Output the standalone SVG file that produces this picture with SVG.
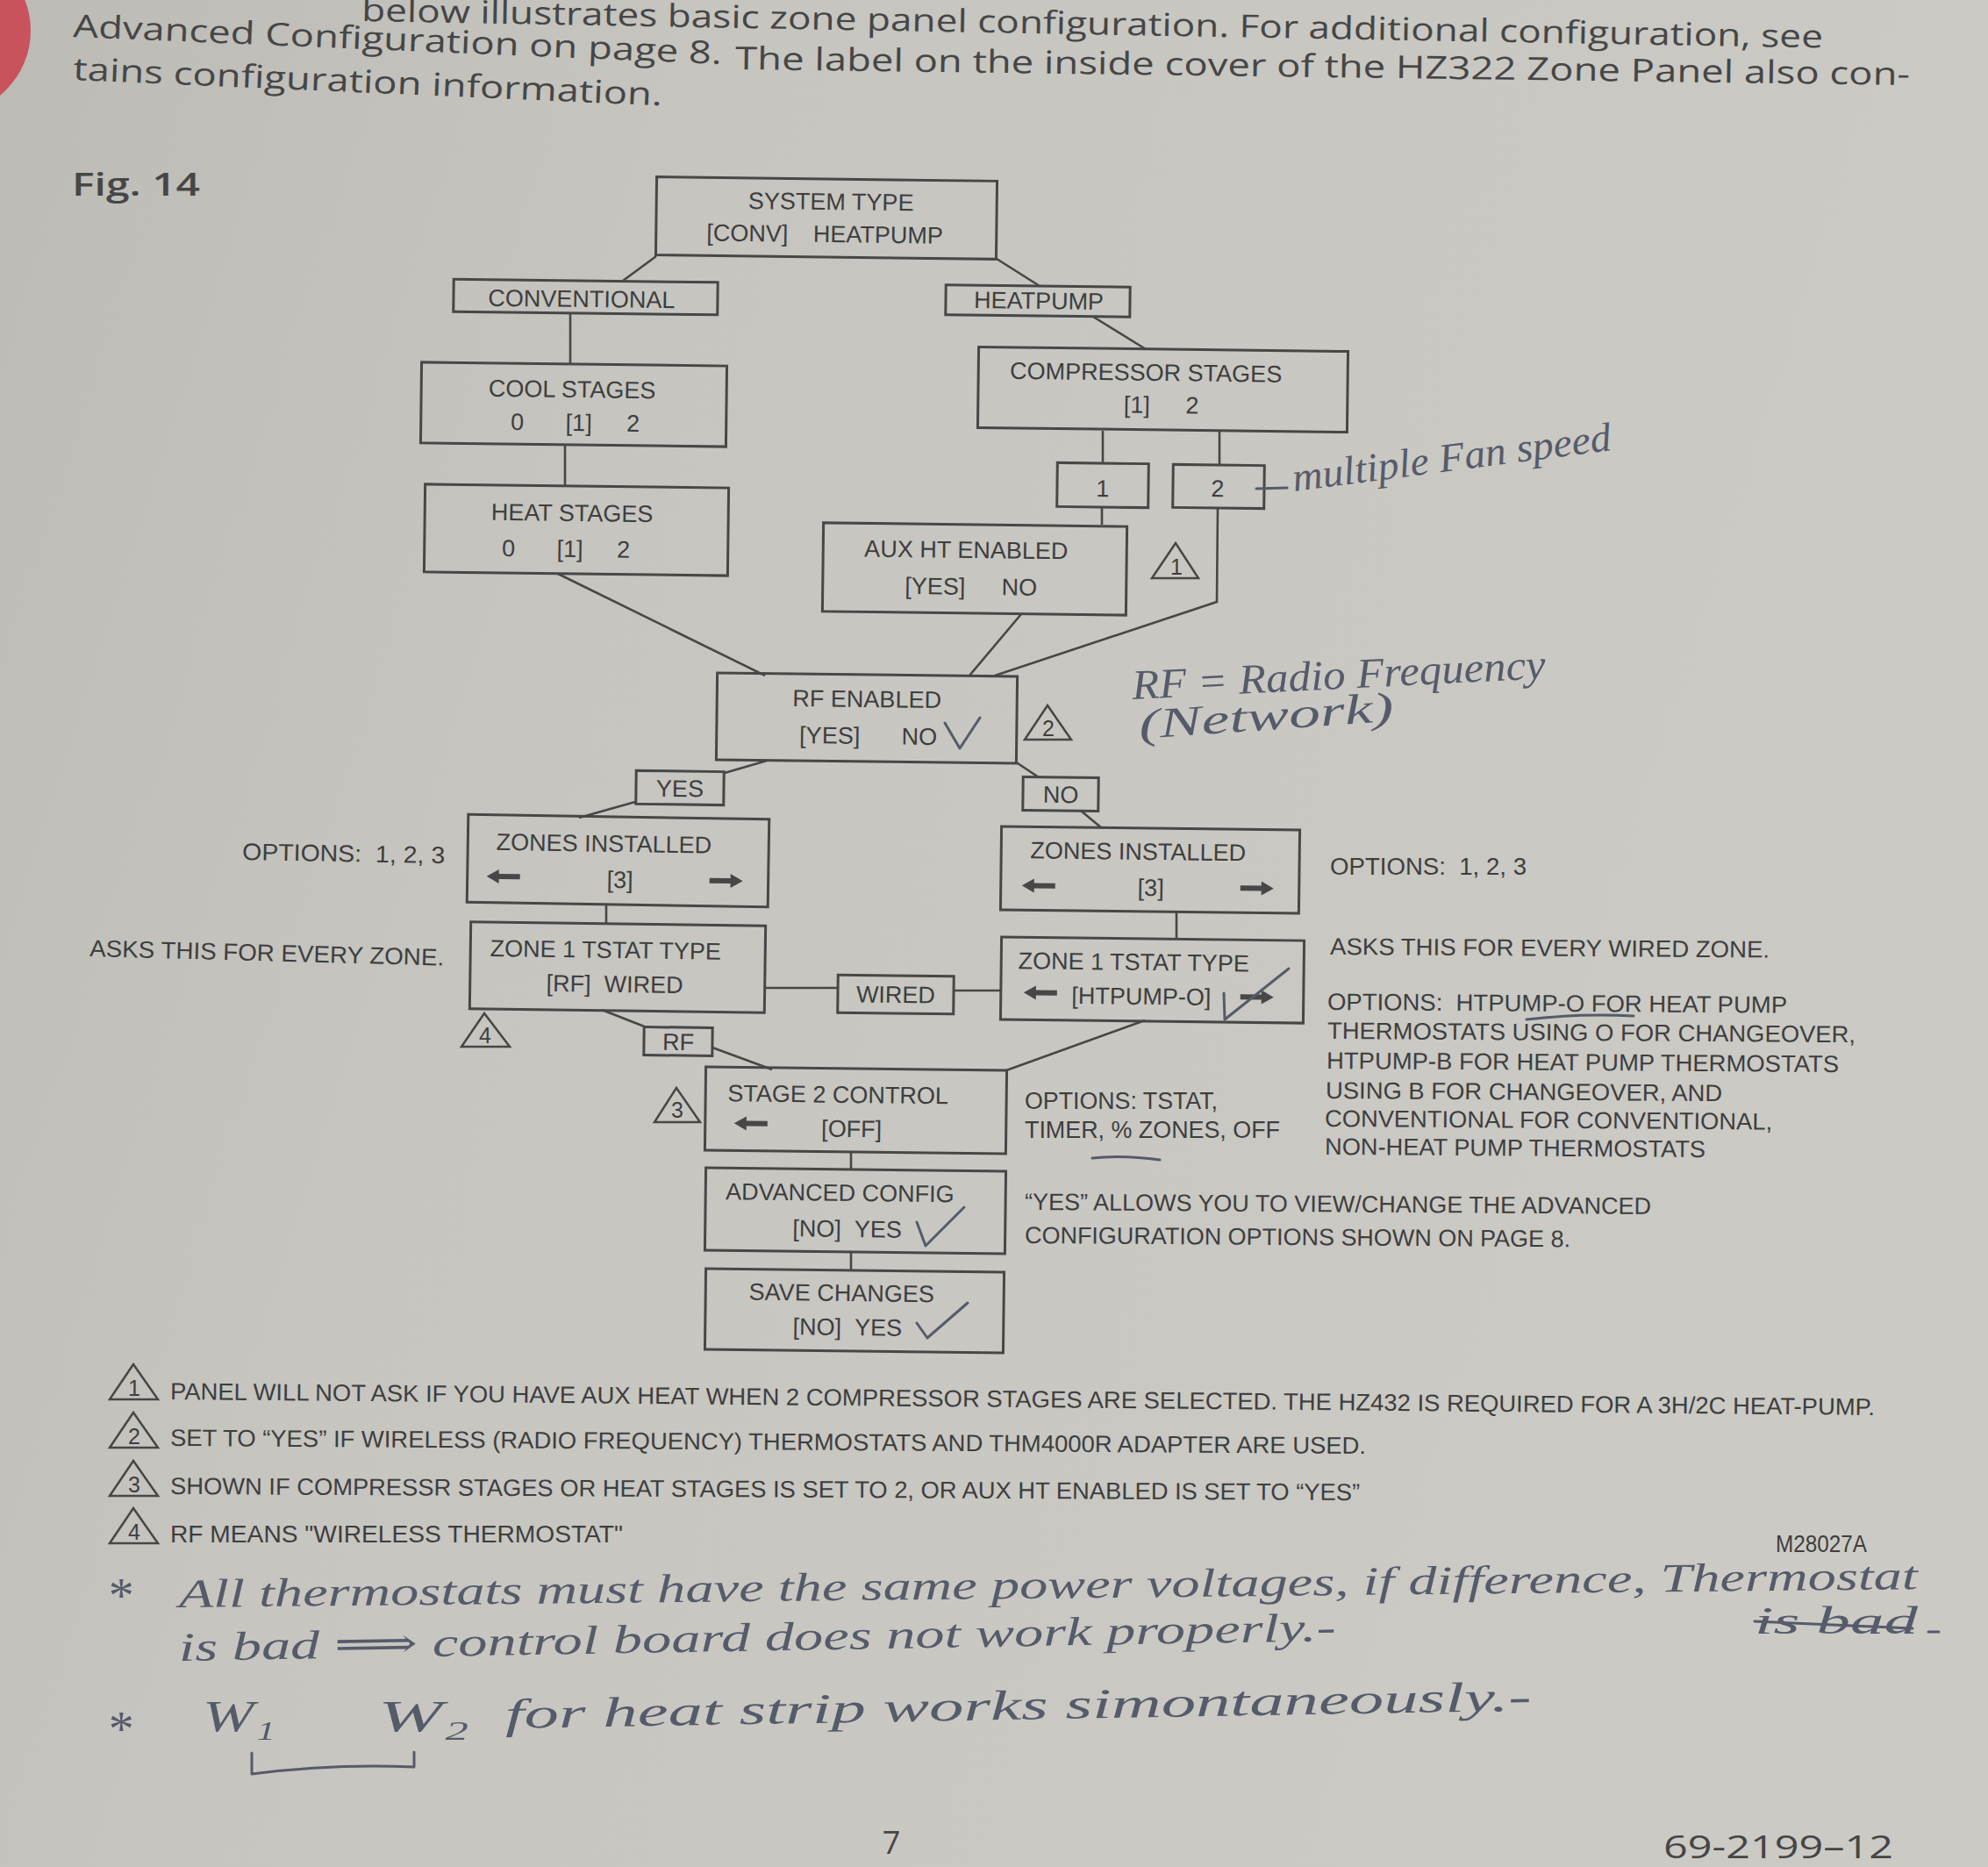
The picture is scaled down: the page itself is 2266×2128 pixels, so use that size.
<svg xmlns="http://www.w3.org/2000/svg" width="2266" height="2128" viewBox="0 0 2266 2128">
<defs>
<linearGradient id="bg" x1="0" y1="0" x2="1" y2="0.3">
<stop offset="0" stop-color="#bcbbb6"/>
<stop offset="0.35" stop-color="#c6c5c0"/>
<stop offset="1" stop-color="#cbcac5"/>
</linearGradient>
<path id="arrL" d="M-19,0 L-5,-8 L-5,-3 L19,-3 L19,3 L-5,3 L-5,8 Z"/>
<path id="arrR" d="M19,0 L5,-8 L5,-3 L-19,-3 L-19,3 L5,3 L5,8 Z"/>
</defs>
<style>
.box{fill:none;stroke:#474747;stroke-width:3}
.tri{fill:none;stroke:#474747;stroke-width:2.5;stroke-linejoin:miter}
.conn{fill:none;stroke:#474747;stroke-width:2.6}
.t{font-family:"Liberation Sans",Arial,sans-serif;font-size:27px;fill:#3e3e3e}
.m{text-anchor:middle}
.tn{font-family:"Liberation Sans",Arial,sans-serif;font-size:25px;fill:#3e3e3e;text-anchor:middle}
.hdr{font-family:"Open Sans","Noto Sans",sans-serif;font-size:36px;fill:#464646}
.arr{fill:#474747}
.hand{font-family:"Liberation Serif","DejaVu Serif",serif;font-style:italic;fill:#565b6a}
.pen{fill:none;stroke:#565b6a;stroke-width:3;stroke-linecap:round;stroke-linejoin:round}
</style>
<rect x="0" y="0" width="2266" height="2128" fill="url(#bg)"/>
<circle cx="-60" cy="35" r="95" fill="#c9535c"/>

<!-- header text -->
<g id="header">
<text class="hdr" x="412" y="24" textLength="1666" lengthAdjust="spacingAndGlyphs" transform="rotate(1.05 412 24)">below illustrates basic zone panel configuration. For additional configuration, see</text>
<text class="hdr" x="83" y="42" textLength="740" lengthAdjust="spacingAndGlyphs" transform="rotate(2.4 83 42)">Advanced Configuration on page 8.</text>
<text class="hdr" x="838" y="79" textLength="1339" lengthAdjust="spacingAndGlyphs" transform="rotate(0.77 838 79)">The label on the inside cover of the HZ322 Zone Panel also con-</text>
<text class="hdr" x="83" y="91" textLength="672" lengthAdjust="spacingAndGlyphs" transform="rotate(2.5 83 91)">tains configuration information.</text>
<text class="hdr" x="82" y="223" font-size="36" font-weight="600" textLength="146" lengthAdjust="spacingAndGlyphs">Fig. 14</text>
</g>

<!-- connectors -->
<g id="connectors">
<path class="conn" d="M748,292 L710,320"/>
<path class="conn" d="M1136,295 L1185,326"/>
<path class="conn" d="M650,357 L650,416"/>
<path class="conn" d="M1246,361 L1306,398"/>
<path class="conn" d="M644,507 L644,555"/>
<path class="conn" d="M1257,491 L1257,528"/>
<path class="conn" d="M1390,491 L1390,530"/>
<path class="conn" d="M1256,578 L1256,598"/>
<path class="conn" d="M1388,579 L1387,686 L1134,770"/>
<path class="conn" d="M1164,700 L1105,770"/>
<path class="conn" d="M636,654 L872,770"/>
<path class="conn" d="M874,867 L826,881"/>
<path class="conn" d="M724,914 L660,932"/>
<path class="conn" d="M1157,868 L1184,886"/>
<path class="conn" d="M1232,924 L1256,944"/>
<path class="conn" d="M691,1031 L691,1054"/>
<path class="conn" d="M1341,1039 L1341,1070"/>
<path class="conn" d="M872,1126 L955,1126"/>
<path class="conn" d="M1087,1129 L1141,1129"/>
<path class="conn" d="M686,1151 L737,1171"/>
<path class="conn" d="M812,1194 L880,1219"/>
<path class="conn" d="M1305,1163 L1147,1220"/>
<path class="conn" d="M970,1313 L970,1333"/>
<path class="conn" d="M970,1427 L970,1448"/>
</g>

<!-- nodes -->
<g id="system-type" transform="rotate(0.7 942 249)">
<rect class="box" x="748" y="204" width="388" height="89"/>
<text class="t m" x="947" y="239">SYSTEM TYPE</text>
<text class="t m" x="852" y="276">[CONV]</text>
<text class="t m" x="1001" y="276">HEATPUMP</text>
</g>
<g id="conventional" transform="rotate(0.7 667 338)">
<rect class="box" x="517" y="320" width="301" height="37"/>
<text class="t m" x="663" y="350">CONVENTIONAL</text>
</g>
<g id="heatpump" transform="rotate(0.7 1183 343)">
<rect class="box" x="1078" y="326" width="210" height="34"/>
<text class="t m" x="1184" y="352">HEATPUMP</text>
</g>
<g id="cool-stages" transform="rotate(0.7 654 461)">
<rect class="box" x="480" y="415" width="348" height="92"/>
<text class="t m" x="652" y="453">COOL STAGES</text>
<text class="t m" x="590" y="491">0</text>
<text class="t m" x="660" y="491">[1]</text>
<text class="t m" x="722" y="491">2</text>
</g>
<g id="heat-stages" transform="rotate(0.7 657 604)">
<rect class="box" x="484" y="554" width="346" height="100"/>
<text class="t m" x="652" y="594">HEAT STAGES</text>
<text class="t m" x="580" y="635">0</text>
<text class="t m" x="650" y="635">[1]</text>
<text class="t m" x="711" y="635">2</text>
</g>
<g id="compressor-stages" transform="rotate(0.7 1325 444)">
<rect class="box" x="1115" y="398" width="421" height="92"/>
<text class="t m" x="1306" y="434">COMPRESSOR STAGES</text>
<text class="t m" x="1296" y="471">[1]</text>
<text class="t m" x="1359" y="471">2</text>
</g>
<g id="stages-1" transform="rotate(0.7 1257 553)">
<rect class="box" x="1205" y="528" width="104" height="50"/>
<text class="t m" x="1257" y="566">1</text>
</g>
<g id="stages-2" transform="rotate(0.7 1389 554)">
<rect class="box" x="1337" y="530" width="104" height="49"/>
<text class="t m" x="1388" y="566">2</text>
</g>
<g id="aux-ht-enabled" transform="rotate(0.7 1111 649)">
<rect class="box" x="938" y="598" width="346" height="101"/>
<text class="t m" x="1101" y="636">AUX HT ENABLED</text>
<text class="t m" x="1066" y="678">[YES]</text>
<text class="t m" x="1162" y="678">NO</text>
</g>
<g id="note-1">
<polygon class="tri" points="1340,619 1313,659 1366,659"/>
<text class="tn" x="1341" y="655">1</text>
</g>
<g id="rf-enabled" transform="rotate(0.7 988 818)">
<rect class="box" x="817" y="769" width="342" height="99"/>
<text class="t m" x="988" y="806">RF ENABLED</text>
<text class="t m" x="946" y="848">[YES]</text>
<text class="t m" x="1048" y="848">NO</text>
</g>
<g id="note-2">
<polygon class="tri" points="1194,804 1168,843 1221,843"/>
<text class="tn" x="1195" y="839">2</text>
</g>
<g id="yes" transform="rotate(0.7 775 898)">
<rect class="box" x="725" y="879" width="100" height="38"/>
<text class="t m" x="775" y="908">YES</text>
</g>
<g id="no" transform="rotate(0.7 1209 905)">
<rect class="box" x="1166" y="886" width="86" height="38"/>
<text class="t m" x="1209" y="915">NO</text>
</g>
<g id="zones-installed-rf" transform="rotate(0.9 704 981)">
<rect class="box" x="533" y="931" width="343" height="100"/>
<text class="t m" x="688" y="971">ZONES INSTALLED</text>
<use class="arr" href="#arrL" x="574" y="1001"/>
<text class="t m" x="707" y="1012">[3]</text>
<use class="arr" href="#arrR" x="828" y="1002"/>
</g>
<g id="zones-installed-wired" transform="rotate(0.7 1311 991)">
<rect class="box" x="1141" y="944" width="340" height="95"/>
<text class="t m" x="1297" y="980">ZONES INSTALLED</text>
<use class="arr" href="#arrL" x="1184" y="1011"/>
<text class="t m" x="1312" y="1021">[3]</text>
<use class="arr" href="#arrR" x="1433" y="1011"/>
</g>
<g id="zone1-tstat-rf" transform="rotate(0.8 704 1102)">
<rect class="box" x="536" y="1053" width="336" height="99"/>
<text class="t m" x="690" y="1092">ZONE 1 TSTAT TYPE</text>
<text class="t m" x="701" y="1131">[RF]&#160;&#160;WIRED</text>
</g>
<g id="wired" transform="rotate(0.7 1021 1133)">
<rect class="box" x="955" y="1112" width="132" height="43"/>
<text class="t m" x="1021" y="1143">WIRED</text>
</g>
<g id="zone1-tstat-wired" transform="rotate(0.7 1313 1117)">
<rect class="box" x="1141" y="1070" width="345" height="94"/>
<text class="t m" x="1292" y="1106">ZONE 1 TSTAT TYPE</text>
<use class="arr" href="#arrL" x="1186" y="1133"/>
<text class="t m" x="1301" y="1145">[HTPUMP-O]</text>
<use class="arr" href="#arrR" x="1433" y="1135"/>
</g>
<g id="note-4">
<polygon class="tri" points="552,1155 526,1193 581,1193"/>
<text class="tn" x="553" y="1189">4</text>
</g>
<g id="rf" transform="rotate(0.7 773 1187)">
<rect class="box" x="734" y="1171" width="78" height="32"/>
<text class="t m" x="773" y="1197">RF</text>
</g>
<g id="stage2-control" transform="rotate(0.7 975 1265)">
<rect class="box" x="804" y="1218" width="343" height="95"/>
<text class="t m" x="955" y="1257">STAGE 2 CONTROL</text>
<use class="arr" href="#arrL" x="856" y="1282"/>
<text class="t m" x="971" y="1296">[OFF]</text>
</g>
<g id="note-3">
<polygon class="tri" points="771,1240 746,1279 798,1279"/>
<text class="tn" x="772" y="1274">3</text>
</g>
<g id="advanced-config" transform="rotate(0.7 975 1380)">
<rect class="box" x="804" y="1333" width="342" height="94"/>
<text class="t m" x="957" y="1369">ADVANCED CONFIG</text>
<text class="t m" x="966" y="1410">[NO]&#160;&#160;YES</text>
</g>
<g id="save-changes" transform="rotate(0.7 974 1494)">
<rect class="box" x="804" y="1448" width="340" height="92"/>
<text class="t m" x="959" y="1483">SAVE CHANGES</text>
<text class="t m" x="966" y="1522">[NO]&#160;&#160;YES</text>
</g>

<!-- side annotations -->
<g id="side-notes">
<text class="t" x="276" y="980" textLength="231" lengthAdjust="spacingAndGlyphs" transform="rotate(1 276 980)">OPTIONS:&#160;&#160;1, 2, 3</text>
<text class="t" x="102" y="1090" textLength="404" lengthAdjust="spacingAndGlyphs" transform="rotate(1.5 102 1090)">ASKS THIS FOR EVERY ZONE.</text>
<text class="t" x="1516" y="997" textLength="224" lengthAdjust="spacingAndGlyphs">OPTIONS:&#160;&#160;1, 2, 3</text>
<text class="t" x="1516" y="1088" textLength="501" lengthAdjust="spacingAndGlyphs" transform="rotate(0.4 1516 1088)">ASKS THIS FOR EVERY WIRED ZONE.</text>
<text class="t" x="1513" y="1151" textLength="524" lengthAdjust="spacingAndGlyphs" transform="rotate(0.4 1513 1151)">OPTIONS:&#160;&#160;HTPUMP-O FOR HEAT PUMP</text>
<text class="t" x="1513" y="1184" textLength="602" lengthAdjust="spacingAndGlyphs" transform="rotate(0.4 1513 1184)">THERMOSTATS USING O FOR CHANGEOVER,</text>
<text class="t" x="1512" y="1218" textLength="584" lengthAdjust="spacingAndGlyphs" transform="rotate(0.4 1512 1218)">HTPUMP-B FOR HEAT PUMP THERMOSTATS</text>
<text class="t" x="1511" y="1252" textLength="452" lengthAdjust="spacingAndGlyphs" transform="rotate(0.4 1511 1252)">USING B FOR CHANGEOVER, AND</text>
<text class="t" x="1510" y="1284" textLength="510" lengthAdjust="spacingAndGlyphs" transform="rotate(0.4 1510 1284)">CONVENTIONAL FOR CONVENTIONAL,</text>
<text class="t" x="1510" y="1316" textLength="434" lengthAdjust="spacingAndGlyphs" transform="rotate(0.4 1510 1316)">NON-HEAT PUMP THERMOSTATS</text>
<text class="t" x="1168" y="1264" textLength="220" lengthAdjust="spacingAndGlyphs">OPTIONS: TSTAT,</text>
<text class="t" x="1168" y="1297" textLength="291" lengthAdjust="spacingAndGlyphs">TIMER, % ZONES, OFF</text>
<text class="t" x="1168" y="1379" textLength="714" lengthAdjust="spacingAndGlyphs" transform="rotate(0.4 1168 1379)">“YES” ALLOWS YOU TO VIEW/CHANGE THE ADVANCED</text>
<text class="t" x="1168" y="1417" textLength="622" lengthAdjust="spacingAndGlyphs" transform="rotate(0.4 1168 1417)">CONFIGURATION OPTIONS SHOWN ON PAGE 8.</text>
</g>

<!-- footnotes -->
<g id="footnotes">
<polygon class="tri" points="152,1555 125,1595 180,1595"/>
<text class="tn" x="153" y="1591">1</text>
<text class="t" x="194" y="1595" textLength="1943" lengthAdjust="spacingAndGlyphs" transform="rotate(0.53 194 1595)">PANEL WILL NOT ASK IF YOU HAVE AUX HEAT WHEN 2 COMPRESSOR STAGES ARE SELECTED. THE HZ432 IS REQUIRED FOR A 3H/2C HEAT-PUMP.</text>
<polygon class="tri" points="152,1610 125,1650 180,1650"/>
<text class="tn" x="153" y="1646">2</text>
<text class="t" x="194" y="1648" textLength="1363" lengthAdjust="spacingAndGlyphs" transform="rotate(0.38 194 1648)">SET TO “YES” IF WIRELESS (RADIO FREQUENCY) THERMOSTATS AND THM4000R ADAPTER ARE USED.</text>
<polygon class="tri" points="152,1665 125,1705 180,1705"/>
<text class="tn" x="153" y="1701">3</text>
<text class="t" x="194" y="1703" textLength="1356" lengthAdjust="spacingAndGlyphs" transform="rotate(0.3 194 1703)">SHOWN IF COMPRESSR STAGES OR HEAT STAGES IS SET TO 2, OR AUX HT ENABLED IS SET TO “YES”</text>
<polygon class="tri" points="152,1719 125,1759 180,1759"/>
<text class="tn" x="153" y="1755">4</text>
<text class="t" x="194" y="1758" textLength="516" lengthAdjust="spacingAndGlyphs">RF MEANS "WIRELESS THERMOSTAT"</text>
<text class="t" x="2024" y="1769" font-size="21" textLength="104" lengthAdjust="spacingAndGlyphs">M28027A</text>
</g>

<!-- handwritten annotations -->
<g id="handwriting">
<path class="pen" d="M1432,557 L1467,556"/>
<text class="hand" x="1475" y="560" font-size="46" textLength="366" lengthAdjust="spacingAndGlyphs" transform="rotate(-7.4 1475 560)">multiple Fan speed</text>
<text class="hand" x="1291" y="797" font-size="48" textLength="472" lengthAdjust="spacingAndGlyphs" transform="rotate(-2.9 1291 797)">RF = Radio Frequency</text>
<text class="hand" x="1299" y="842" font-size="48" textLength="291" lengthAdjust="spacingAndGlyphs" transform="rotate(-4 1299 842)">(Network)</text>
<path class="pen" d="M1077,824 L1094,853 L1117,818"/>
<path class="pen" d="M1395,1132 L1396,1162 L1469,1104"/>
<path class="pen" d="M1045,1393 L1055,1420 L1099,1376"/>
<path class="pen" d="M1045,1508 L1057,1525 L1103,1485"/>
<path class="pen" d="M1740,1162 Q1800,1155 1862,1158" stroke-width="4"/>
<path class="pen" d="M1245,1320 Q1280,1316 1322,1322" stroke-width="6"/>
<text class="hand" x="121" y="1838" font-size="58">*</text>
<text class="hand" x="204" y="1832" font-size="46" textLength="1982" lengthAdjust="spacingAndGlyphs" transform="rotate(-0.6 204 1832)">All thermostats must have the same power voltages, if difference, Thermostat</text>
<text class="hand" x="204" y="1893" font-size="46" textLength="1319" lengthAdjust="spacingAndGlyphs" transform="rotate(-1 204 1893)">is bad ⟹ control board does not work properly.-</text>
<text class="hand" x="2000" y="1862" font-size="44" textLength="186" lengthAdjust="spacingAndGlyphs">is bad</text>
<path class="pen" d="M2000,1848 L2180,1856"/>
<path class="pen" d="M2198,1860 L2210,1860"/>
<text class="hand" x="121" y="1990" font-size="58">*</text>
<text class="hand" x="231" y="1973" font-size="50" textLength="83" lengthAdjust="spacingAndGlyphs">W₁</text>
<text class="hand" x="431" y="1973" font-size="50" textLength="104" lengthAdjust="spacingAndGlyphs">W₂</text>
<text class="hand" x="576" y="1970" font-size="48" textLength="1170" lengthAdjust="spacingAndGlyphs" transform="rotate(-1 576 1970)">for heat strip works simontaneously.-</text>
<path class="pen" d="M287,1998 L287,2022 Q380,2010 472,2014 L472,1997"/>
</g>

<!-- page footer -->
<g id="footer">
<text class="hdr" x="1016" y="2113" font-size="42" text-anchor="middle">7</text>
<text class="hdr" x="1896" y="2118" font-size="42" textLength="262" lengthAdjust="spacingAndGlyphs">69-2199–12</text>
</g>
</svg>
